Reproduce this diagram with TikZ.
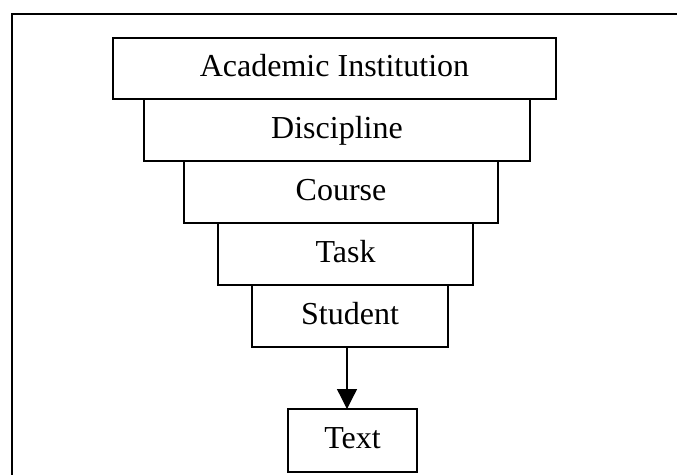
\documentclass[tikz,border=0pt]{standalone}
\usepackage{fontspec}
\setmainfont{Liberation Serif}
\usetikzlibrary{arrows.meta}
\begin{document}
\begin{tikzpicture}[x=1pt,y=-1pt,
  level/.style={draw=black, line width=1.3pt, inner sep=0pt, text height=21pt, text depth=5pt,
    font=\fontsize{32}{38}\selectfont},
  frameline/.style={line width=2pt, line cap=rect},
  arrowline/.style={line width=1.3pt, -{Triangle[length=20pt,width=20pt]}}]
\useasboundingbox (0,0) rectangle (677,474);
\coordinate (fc) at (12,14);
\coordinate (fr) at (690,14);
\coordinate (fb) at (12,490);
\draw[frameline] (fr) -- (fc) -- (fb);
\node[level, minimum width=443pt, minimum height=61pt] (inst) at (334.5,68.5) {Academic Institution};
\node[level, minimum width=386pt, minimum height=62pt] (disc) at (337,130) {Discipline};
\node[level, minimum width=314pt, minimum height=62pt] (course) at (341,192) {Course};
\node[level, minimum width=255pt, minimum height=62pt] (task) at (345.5,254) {Task};
\node[level, minimum width=196pt, minimum height=62pt] (student) at (350,316) {Student};
\node[level, minimum width=129pt, minimum height=63pt] (text) at (352.5,440.5) {Text};
\coordinate (tip) at (347,409);
\draw[arrowline] (tip |- student.south) -- (tip);
\end{tikzpicture}
\end{document}
